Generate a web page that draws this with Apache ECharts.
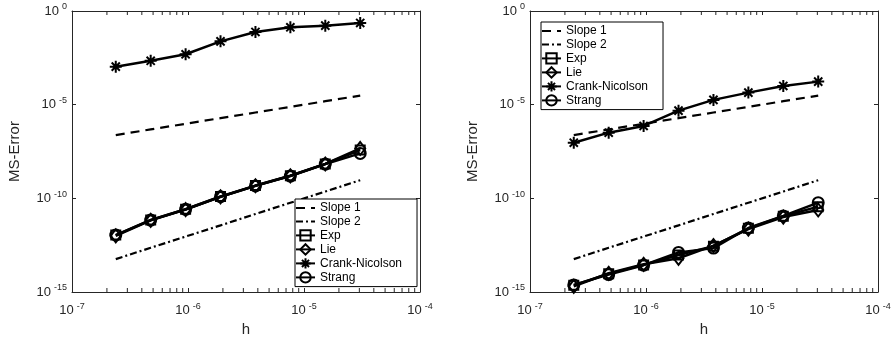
<!DOCTYPE html>
<html>
<head>
<meta charset="utf-8">
<script src="https://cdn.jsdelivr.net/npm/echarts@6/dist/echarts.min.js"></script>
<style>
  html, body { margin: 0; padding: 0; background: #fff; }
  #chart { width: 894px; height: 338px; }
</style>
</head>
<body>
<div id="chart"></div>
<script>
// step sizes (x values, shared by both panels)
const h = [2.384e-7, 4.768e-7, 9.537e-7, 1.907e-6, 3.815e-6, 7.629e-6, 1.526e-5, 3.052e-5];

// reference slope lines (same in both panels)
const slope1 = [2.38e-7, 4.77e-7, 9.54e-7, 1.91e-6, 3.81e-6, 7.63e-6, 1.53e-5, 3.05e-5];
const slope2 = [5.7e-14, 2.3e-13, 9.1e-13, 3.6e-12, 1.46e-11, 5.8e-11, 2.3e-10, 9.3e-10];

// left panel
const expLeft    = [1.1e-12, 7.0e-12, 2.6e-11, 1.25e-10, 4.8e-10, 1.6e-9, 6.9e-9, 3.8e-8];
const lieLeft    = [1.0e-12, 6.7e-12, 2.5e-11, 1.2e-10, 4.7e-10, 1.6e-9, 6.8e-9, 4.6e-8];
const cnLeft     = [1.07e-3, 2.2e-3, 4.9e-3, 0.024, 0.076, 0.135, 0.165, 0.23];
const strangLeft = [1.1e-12, 6.9e-12, 2.6e-11, 1.22e-10, 4.6e-10, 1.55e-9, 6.7e-9, 2.5e-8];

// right panel
const expRight    = [2.3e-15, 9.5e-15, 2.8e-14, 9.4e-14, 2.8e-13, 2.5e-12, 1.1e-11, 3.6e-11];
const lieRight    = [2.0e-15, 1.0e-14, 3.0e-14, 6.3e-14, 3.0e-13, 2.3e-12, 1.0e-11, 2.4e-11];
const cnRight     = [9.3e-8, 3.2e-7, 7.3e-7, 4.8e-6, 1.8e-5, 4.4e-5, 1.0e-4, 1.7e-4];
const strangRight = [2.4e-15, 8.5e-15, 2.7e-14, 1.3e-13, 2.2e-13, 2.6e-12, 1.15e-11, 5.9e-11];

// minor ticks on the x axis
const xMinorTicks = [
  2e-7, 3e-7, 4e-7, 5e-7, 6e-7, 7e-7, 8e-7, 9e-7,
  2e-6, 3e-6, 4e-6, 5e-6, 6e-6, 7e-6, 8e-6, 9e-6,
  2e-5, 3e-5, 4e-5, 5e-5, 6e-5, 7e-5, 8e-5, 9e-5
];

const legendNames = ['Slope 1', 'Slope 2', 'Exp', 'Lie', 'Crank-Nicolson', 'Strang'];

const FONT = '"Liberation Sans", Arial, Helvetica, sans-serif';
const AXIS = '#262626';
const X_MIN = 1e-7, X_MAX = 1e-4, Y_MIN = 1e-15, Y_MAX = 1;
const TICK = 4;

const ASTERISK = 'path://M5 0L5 10M0 5L10 5M1.6 1.6L8.4 8.4M1.6 8.4L8.4 1.6';

const chart = echarts.init(document.getElementById('chart'), null, { renderer: 'canvas' });

function powLabel(v) {
  const e = Math.round(Math.log10(v));
  return '{b|10}{e|' + e + '}';
}
const labelRich = {
  b: { fontSize: 13, fontFamily: FONT, color: AXIS },
  e: { fontSize: 9, fontFamily: FONT, color: AXIS, padding: [0, 0, 8, 3] }
};

function pairs(ys) {
  return h.map((x, i) => [x, ys[i]]);
}

const xAxes = [], yAxes = [], series = [];
const grids = [
  { left: 72, top: 11, width: 348, height: 281, outerBoundsMode: 'none', containLabel: false },
  { left: 530, top: 11, width: 348, height: 281, outerBoundsMode: 'none', containLabel: false }
];
const panels = [
  { exp: expLeft, lie: lieLeft, cn: cnLeft, strang: strangLeft },
  { exp: expRight, lie: lieRight, cn: cnRight, strang: strangRight }
];

grids.forEach((g, gi) => {
  xAxes.push({
    gridIndex: gi, type: 'log', logBase: 10, min: X_MIN, max: X_MAX, position: 'bottom',
    axisLine: { show: true, lineStyle: { color: AXIS, width: 1 } },
    axisTick: { show: true, inside: true, length: TICK, lineStyle: { color: AXIS } },
    splitLine: { show: false },
    axisLabel: { formatter: powLabel, rich: labelRich, margin: 10 },
    name: 'h', nameLocation: 'middle', nameGap: 30,
    nameTextStyle: { fontSize: 15, fontFamily: FONT, color: AXIS }
  });
  xAxes.push({
    gridIndex: gi, type: 'log', logBase: 10, min: X_MIN, max: X_MAX, position: 'top',
    axisLine: { show: true, lineStyle: { color: AXIS, width: 1 } },
    axisTick: { show: true, inside: true, length: TICK, lineStyle: { color: AXIS } },
    splitLine: { show: false },
    axisLabel: { show: false }
  });
  yAxes.push({
    gridIndex: gi, type: 'log', logBase: 10, min: Y_MIN, max: Y_MAX, interval: 5, position: 'left',
    axisLine: { show: true, lineStyle: { color: AXIS, width: 1 } },
    axisTick: { show: true, inside: true, length: TICK, lineStyle: { color: AXIS } },
    splitLine: { show: false },
    axisLabel: { formatter: powLabel, rich: labelRich, margin: 5 },
    name: 'MS-Error', nameLocation: 'middle', nameGap: 50,
    nameTextStyle: { fontSize: 15, fontFamily: FONT, color: AXIS }
  });
  yAxes.push({
    gridIndex: gi, type: 'log', logBase: 10, min: Y_MIN, max: Y_MAX, interval: 5, position: 'right',
    axisLine: { show: true, lineStyle: { color: AXIS, width: 1 } },
    axisTick: { show: true, inside: true, length: TICK, lineStyle: { color: AXIS } },
    splitLine: { show: false },
    axisLabel: { show: false }
  });

  const xi = gi * 2, yi = gi * 2;
  const p = panels[gi];
  const hollow = { color: 'rgba(0,0,0,0)', borderColor: '#000', borderWidth: 2 };
  const solid = { color: '#000', width: 2.5 };

  series.push({
    name: 'Slope 1', type: 'line', xAxisIndex: xi, yAxisIndex: yi,
    data: pairs(slope1), symbol: 'circle', showSymbol: false,
    itemStyle: { color: 'rgba(0,0,0,0)' },
    lineStyle: { color: '#000', width: 2.2, type: [9, 6] }, z: 3
  });
  series.push({
    name: 'Slope 2', type: 'line', xAxisIndex: xi, yAxisIndex: yi,
    data: pairs(slope2), symbol: 'circle', showSymbol: false,
    itemStyle: { color: 'rgba(0,0,0,0)' },
    lineStyle: { color: '#000', width: 2.2, type: [7, 3, 2, 3] }, z: 3
  });
  series.push({
    name: 'Exp', type: 'line', xAxisIndex: xi, yAxisIndex: yi,
    data: pairs(p.exp), symbol: 'rect', symbolSize: 9,
    itemStyle: hollow, lineStyle: solid, z: 4
  });
  series.push({
    name: 'Lie', type: 'line', xAxisIndex: xi, yAxisIndex: yi,
    data: pairs(p.lie), symbol: 'diamond', symbolSize: [10, 13],
    itemStyle: hollow, lineStyle: solid, z: 4
  });
  series.push({
    name: 'Crank-Nicolson', type: 'line', xAxisIndex: xi, yAxisIndex: yi,
    data: pairs(p.cn), symbol: ASTERISK, symbolSize: 12,
    itemStyle: hollow, lineStyle: solid, z: 4
  });
  series.push({
    name: 'Strang', type: 'line', xAxisIndex: xi, yAxisIndex: yi,
    data: pairs(p.strang), symbol: 'circle', symbolSize: 11,
    itemStyle: hollow, lineStyle: solid, z: 4
  });

  // minor ticks along bottom and top edges
  series.push({
    type: 'custom', xAxisIndex: xi, yAxisIndex: yi, silent: true, z: 6,
    data: xMinorTicks.map(v => [v, Y_MIN]),
    renderItem: (params, api) => {
      const b = api.coord([api.value(0), Y_MIN]);
      const t = api.coord([api.value(0), Y_MAX]);
      const st = { stroke: AXIS, lineWidth: 1 };
      return {
        type: 'group',
        children: [
          { type: 'line', shape: { x1: b[0], y1: b[1], x2: b[0], y2: b[1] - TICK }, style: st },
          { type: 'line', shape: { x1: t[0], y1: t[1], x2: t[0], y2: t[1] + TICK }, style: st }
        ]
      };
    }
  });
});

function legendAt(left, top) {
  return {
    data: legendNames, orient: 'vertical', left: left, top: top,
    itemWidth: 19, itemHeight: 13, itemGap: 1.6,
    padding: [3, 15, 3, 0],
    backgroundColor: '#fff', borderColor: '#000', borderWidth: 1,
    textStyle: { fontSize: 12, fontFamily: FONT, color: '#000' },
    selectedMode: false
  };
}

const option = {
  backgroundColor: '#fff',
  animation: false,
  grid: grids,
  xAxis: xAxes,
  yAxis: yAxes,
  legend: [legendAt(295, 199), legendAt(541, 22)],
  series: series
};

chart.setOption(option);
</script>
</body>
</html>
